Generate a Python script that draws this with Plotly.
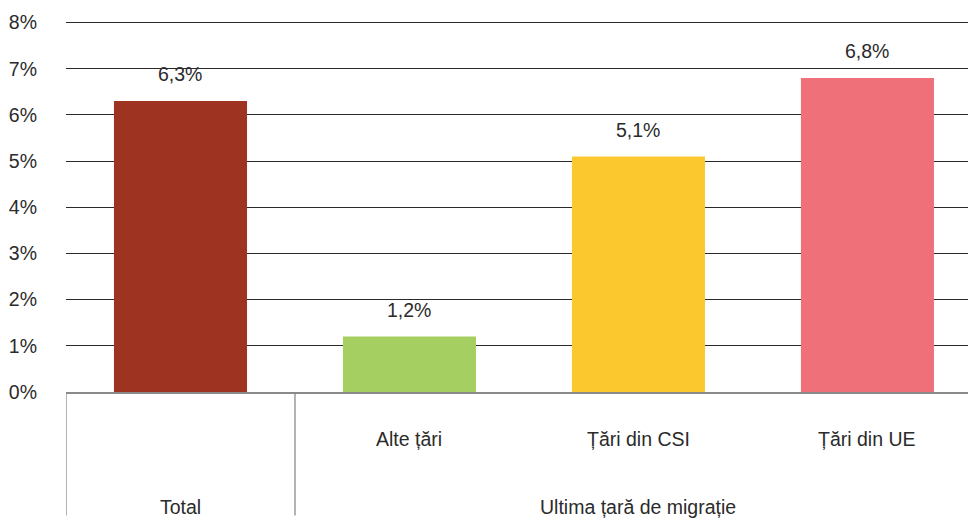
import plotly.graph_objects as go

categories = ["Total", "Alte țări", "Țări din CSI", "Țări din UE"]
tick_labels = ["", "Alte țări", "Țări din CSI", "Țări din UE"]
group_labels = ["Total", "Ultima țară de migrație"]
group_members = [[0], [1, 2, 3]]
values = [6.3, 1.2, 5.1, 6.8]
y_ticks = [0, 1, 2, 3, 4, 5, 6, 7, 8]
colors = ["#9E3322", "#A5CF61", "#FBC92E", "#F0707A"]

font_name = "Liberation Sans, Arial, sans-serif"
fsize = 19.5
txt_color = "#2b2b2b"

fig = go.Figure()
fig.add_trace(go.Bar(
    x=categories,
    y=values,
    marker=dict(color=colors, line=dict(width=0)),
    width=0.581,
    hoverinfo="skip",
))

# value labels a bit above each bar
for c, v in zip(categories, values):
    fig.add_annotation(
        x=c, y=v,
        text=f"{v:.1f}".replace(".", ",") + "%",
        showarrow=False, yanchor="middle", yshift=27,
        font=dict(size=fsize, color=txt_color),
    )

# inner category row
for i, lab in enumerate(tick_labels):
    if lab:
        fig.add_annotation(
            x=i, y=0, yref="paper", text=lab, showarrow=False,
            yanchor="middle", yshift=-47,
            font=dict(size=fsize, color=txt_color),
        )

# outer group row + dividers
for lab, members in zip(group_labels, group_members):
    fig.add_annotation(
        x=sum(members) / len(members), y=0, yref="paper", text=lab,
        showarrow=False, yanchor="middle", yshift=-115,
        font=dict(size=fsize, color=txt_color),
    )
    fig.add_shape(
        type="line", xref="x", yref="paper",
        x0=min(members) - 0.5, x1=min(members) - 0.5, y0=0, y1=-0.33,
        line=dict(color="#8a8a8a", width=1.3),
    )

# page body has an 8px margin, so the figure is a bit smaller
# the original chart runs past the right edge, hence the cut x range
fig.update_layout(
    width=968, height=510,
    margin=dict(l=58, r=0, t=10, b=126),
    plot_bgcolor="white", paper_bgcolor="white",
    font=dict(family=font_name, size=fsize, color=txt_color),
    showlegend=False,
)
fig.update_yaxes(
    range=[0, 8.1], tickmode="array", tickvals=y_ticks,
    ticktext=[f"{t}%" for t in y_ticks],
    showgrid=True, gridcolor="#2a2a2a", gridwidth=1,
    zeroline=False, showline=False,
    ticks="", ticklabelstandoff=28, automargin=False,
    tickfont=dict(size=fsize, color=txt_color),
)
fig.update_xaxes(
    type="category", range=[-0.5, 3.474],
    showline=True, linecolor="#8a8a8a", linewidth=2,
    showticklabels=False, ticks="", automargin=False,
)

fig.write_html("out.html")
